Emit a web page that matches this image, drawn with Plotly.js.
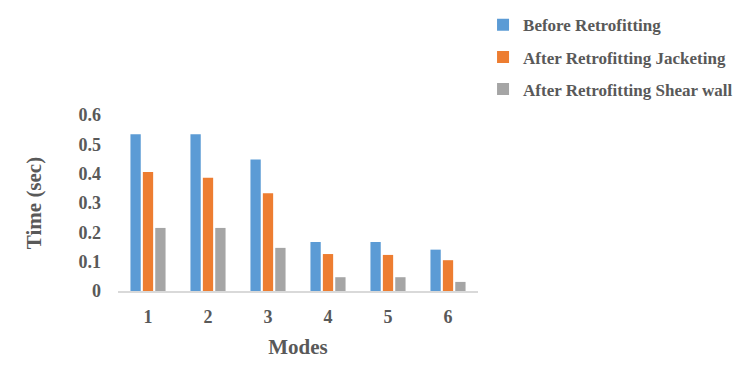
<!DOCTYPE html>
<html>
<head>
<meta charset="utf-8">
<script src="https://cdn.plot.ly/plotly-3.0.1.min.js"></script>
<style>html,body{margin:0;padding:0;background:#fff;}#chart{width:744px;height:365px;}</style>
</head>
<body>
<div id="chart"></div>
<script>
const modes = ["1", "2", "3", "4", "5", "6"];
const seriesNames = ["Before Retrofitting", "After Retrofitting Jacketing", "After Retrofitting Shear wall"];
const beforeRetrofitting = [0.534, 0.534, 0.448, 0.167, 0.167, 0.141];
const afterJacketing = [0.406, 0.386, 0.333, 0.126, 0.123, 0.105];
const afterShearWall = [0.215, 0.215, 0.147, 0.047, 0.047, 0.031];
const yTickVals = [0, 0.1, 0.2, 0.3, 0.4, 0.5, 0.6];
const yTickText = ["0", "0.1", "0.2", "0.3", "0.4", "0.5", "0.6"];

const colors = ["#5B9BD5", "#ED7D31", "#A5A5A5"];
const values = [beforeRetrofitting, afterJacketing, afterShearWall];
const FONT = "Liberation Serif, Times New Roman, serif";
const TXT = "#595959";

const traces = values.map((v, i) => ({
  type: "bar",
  x: modes,
  y: v,
  name: "<b>" + seriesNames[i] + "</b>",
  legendgroup: "g" + i,
  marker: {color: colors[i]},
  hoverinfo: "none"
}));

const layout = {
  width: 744, height: 365,
  margin: {l: 118, r: 266, t: 115, b: 74},
  paper_bgcolor: "#fff", plot_bgcolor: "#fff",
  barmode: "group",
  bargap: 0.38,
  bargroupgap: 0.17,
  font: {family: FONT, color: TXT},
  showlegend: true,
  legend: {
    x: 1.014, xref: "paper", xanchor: "left",
    y: 0.98, yref: "container", yanchor: "top",
    font: {family: FONT, size: 17, color: TXT},
    traceorder: "grouped",
    tracegroupgap: 7,
    itemwidth: 30,
    bgcolor: "rgba(0,0,0,0)"
  },
  xaxis: {
    type: "category",
    showline: true, linecolor: "#D9D9D9", linewidth: 1.5,
    showgrid: false, zeroline: false, ticks: "",
    tickfont: {family: FONT, size: 18, color: TXT, weight: "bold"},
    ticklabelstandoff: 9,
    title: {text: "<b>Modes</b>", font: {family: FONT, size: 21, color: TXT}, standoff: 13},
    automargin: false
  },
  yaxis: {
    range: [0, 0.6],
    tickvals: yTickVals, ticktext: yTickText,
    showline: false, showgrid: false, zeroline: false, ticks: "",
    tickfont: {family: FONT, size: 18, color: TXT, weight: "bold"},
    ticklabelstandoff: 16,
    title: {text: "<b>Time (sec)</b>", font: {family: FONT, size: 21, color: TXT}, standoff: 31},
    automargin: false
  }
};

Plotly.newPlot("chart", traces, layout, {displayModeBar: false, staticPlot: true});
</script>
</body>
</html>
